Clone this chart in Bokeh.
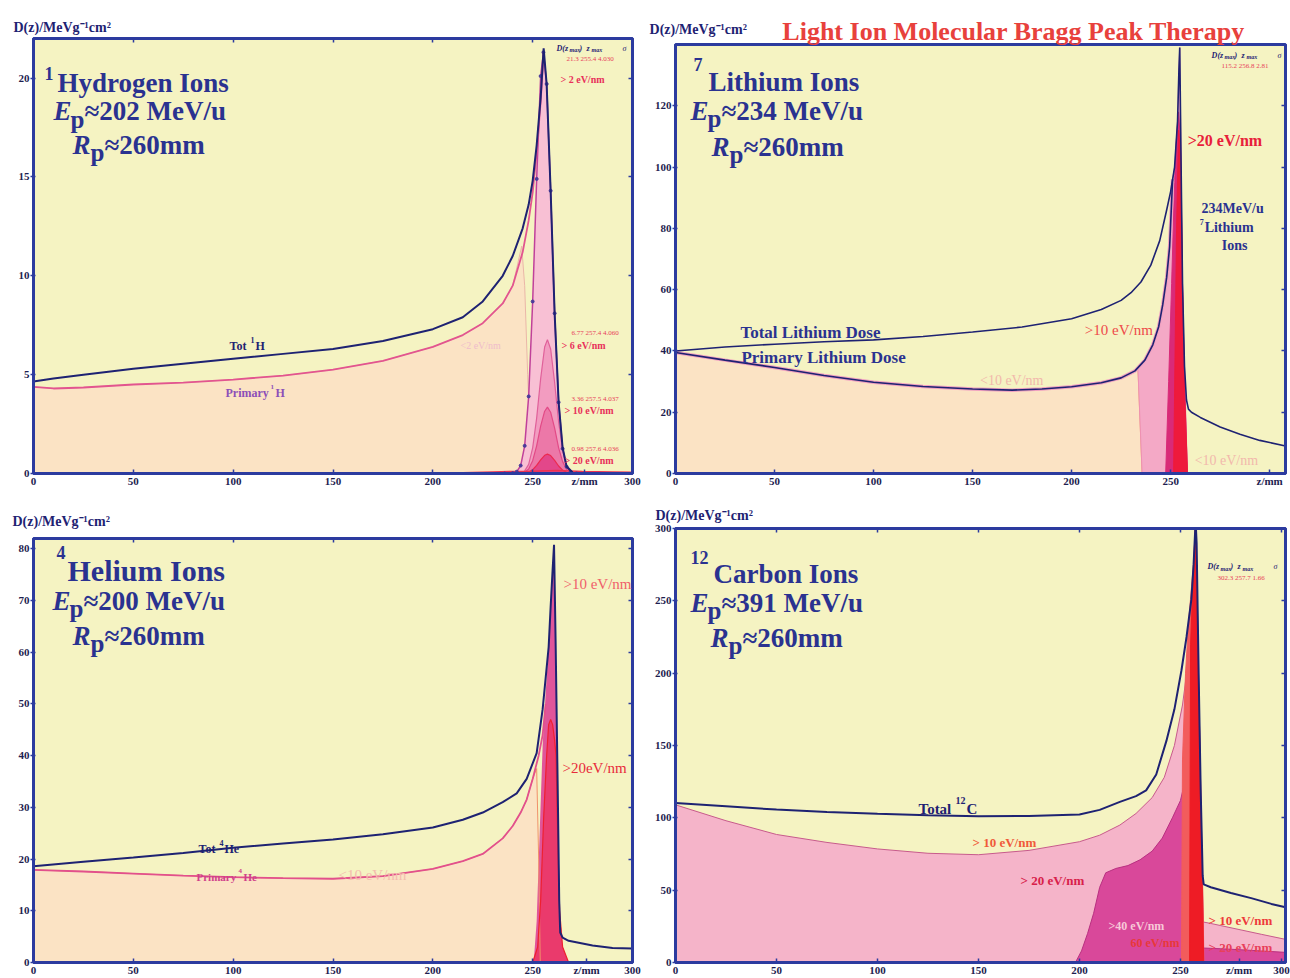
from bokeh.plotting import figure
from bokeh.models import Range1d, Label, LinearAxis, FixedTicker
from bokeh.layouts import column, row
from bokeh.embed import file_html
from bokeh.resources import INLINE

SERIF = "Liberation Serif"
YELLOW = "#f5f3c2"
FRAME = "#2c3b9f"
NAVY = "#1e2272"
TXT = "#2a3290"
TICK = "#1e1e50"
PEACH = "#fbe3c4"

# ---------------- data ----------------
x_ticks = [0, 50, 100, 150, 200, 250, 300]

# Hydrogen (panel 1)
h_y_ticks = [0, 5, 10, 15, 20]
h_tot_z = [0, 10, 25, 50, 75, 100, 125, 150, 175, 200, 215, 225, 235, 240, 245, 248, 250, 252, 254, 255.5, 257, 259, 261, 263, 265, 267, 270]
h_tot_d = [4.65, 4.8, 5.0, 5.3, 5.55, 5.8, 6.05, 6.3, 6.7, 7.3, 7.9, 8.7, 10.0, 11.0, 12.4, 13.6, 14.8, 16.6, 19.0, 21.5, 19.7, 14.3, 8.1, 3.6, 1.3, 0.35, 0.05]
h_pri_z = [0, 10, 25, 50, 75, 100, 125, 150, 175, 200, 215, 225, 235, 240, 245, 248, 250, 252, 254, 255.5]
h_pri_d = [4.38, 4.3, 4.35, 4.5, 4.6, 4.75, 4.95, 5.25, 5.7, 6.4, 7.0, 7.6, 8.6, 9.5, 11.2, 12.8, 14.2, 16.2, 18.8, 21.3]
h_lt2_z = [0, 10, 25, 50, 75, 100, 125, 150, 175, 200, 215, 225, 235, 240, 242.5, 244.5, 246, 247.5, 249, 250]
h_lt2_d = [4.38, 4.3, 4.35, 4.5, 4.6, 4.75, 4.95, 5.25, 5.7, 6.4, 7.0, 7.6, 8.6, 9.5, 10.6, 11.5, 9.5, 5.0, 1.2, 0.0]
h_gt2_z = [236, 240, 242, 244, 246, 248, 250, 252, 254, 255.4, 257, 259, 261, 263, 265, 267, 269, 272]
h_gt2_d = [0.0, 0.02, 0.09, 0.4, 1.4, 3.9, 8.7, 14.9, 20.1, 21.3, 19.7, 14.3, 8.1, 3.6, 1.25, 0.34, 0.07, 0.0]
h_peak_z = [244, 246, 248, 250, 252, 254, 256, 257.4, 259, 261, 263, 265, 267, 270]
h_gt6_d = [0.0, 0.13, 0.46, 1.3, 2.8, 4.8, 6.4, 6.77, 6.3, 4.6, 2.6, 1.2, 0.4, 0.05]
h_gt10_d = [0.0, 0.06, 0.23, 0.65, 1.4, 2.4, 3.15, 3.36, 3.1, 2.3, 1.3, 0.6, 0.2, 0.03]
h_gt20_d = [0.0, 0.02, 0.07, 0.19, 0.41, 0.69, 0.92, 0.98, 0.91, 0.66, 0.38, 0.17, 0.06, 0.01]
h_tail_z = [215, 230, 240, 250, 262, 275, 290, 300]
h_tail_d = [0.04, 0.08, 0.1, 0.12, 0.15, 0.1, 0.08, 0.06]

# Lithium (panel 2)
li_y_ticks = [0, 20, 40, 60, 80, 100, 120]
li_tot_z = [0, 25, 50, 75, 100, 125, 150, 175, 200, 215, 225, 230, 235, 240, 244.5, 248, 250, 251, 252, 253.5, 254.2, 254.6, 255.3, 256, 257, 258, 259, 260.5, 265, 275, 285, 295, 308]
li_tot_d = [40, 41.3, 42.2, 43, 43.6, 44.7, 46.2, 47.8, 50.5, 53.5, 56.5, 59, 62.5, 68, 76, 86, 92, 96, 100, 115, 132, 139, 100, 62, 35, 24, 21, 20, 18.3, 15.2, 12.8, 10.8, 9.0]
li_pri_z = [0, 25, 50, 75, 100, 125, 150, 170, 185, 200, 215, 225, 232, 237, 241, 244, 246, 248, 249.5, 251]
li_pri_d = [39.5, 37, 34.6, 32, 29.8, 28.4, 27.6, 27.2, 27.6, 28.3, 29.6, 31.2, 33.5, 37, 42, 48, 55, 64, 74, 96]
li_lt10_z = [0, 25, 50, 75, 100, 125, 150, 170, 185, 200, 215, 225, 232, 233.5, 235.6]
li_lt10_d = [39.5, 37, 34.6, 32, 29.8, 28.4, 27.6, 27.2, 27.6, 28.3, 29.6, 31.2, 33.5, 34.2, 0]
li_gt10_z = [235.6, 233.5, 237, 241, 244, 246, 248, 249.5, 251, 252, 253.5, 254.2, 254.6, 255.3, 256, 257, 258.5]
li_gt10_d = [0, 34.2, 37, 42, 48, 55, 64, 74, 96, 100, 115, 132, 139, 100, 62, 35, 0]
li_gt20_z = [247.5, 249, 250.5, 252, 253, 254, 255, 256, 257, 258.5]
li_gt20_d = [0, 30, 62, 95, 110, 118, 108, 62, 30, 0]
li_red_z = [251.5, 253, 254, 255, 256, 257, 258.5]
li_red_d = [0, 80, 112, 105, 60, 28, 0]

# Helium (panel 3)
he_y_ticks = [0, 10, 20, 30, 40, 50, 60, 70, 80]
he_tot_z = [0, 25, 50, 75, 100, 125, 150, 175, 200, 215, 225, 235, 242, 247, 252, 255, 256.5, 258, 259, 260, 260.7, 261.5, 262.5, 263.3, 263.8, 265, 268, 280, 290, 300]
he_tot_d = [18.6, 19.5, 20.3, 21.2, 22.2, 23.0, 23.8, 24.8, 26.1, 27.6, 29.0, 31.0, 32.7, 35.5, 40.5, 49.0, 55, 61, 68.8, 76, 80.8, 62, 35, 12, 5.8, 4.8, 4.2, 3.3, 2.8, 2.7]
he_pri_z = [0, 25, 50, 75, 100, 125, 150, 175, 200, 215, 225, 235, 240, 244, 247, 250, 253, 255, 256.5]
he_pri_d = [17.9, 17.6, 17.2, 16.8, 16.5, 16.3, 16.2, 16.7, 18.1, 19.6, 21.0, 24.0, 26.4, 29.0, 31.5, 35.5, 40, 44, 50]
he_lt10_z = [0, 25, 50, 75, 100, 125, 150, 175, 200, 215, 225, 235, 240, 244, 247, 250, 252, 253, 253.8]
he_lt10_d = [17.9, 17.6, 17.2, 16.8, 16.5, 16.3, 16.2, 16.7, 18.1, 19.6, 21.0, 24.0, 26.4, 29.0, 31.5, 35.5, 37.5, 20, 0]
he_gt10_z = [250.5, 252, 253.5, 255, 256.5, 258, 259, 260, 260.7, 261.5, 262.5, 263.3, 264, 266, 268]
he_gt10_d = [0, 8, 25, 42, 52, 61, 68.8, 76, 80.8, 62, 35, 12, 5, 1.5, 0]
he_gt20_z = [250, 252.5, 254, 255.5, 257, 258, 259, 260, 261, 261.7, 262.5, 263.5, 265, 268]
he_gt20_d = [0, 3, 12, 28, 40, 46, 47, 46, 43, 40, 25, 10, 3, 0]

# Carbon (panel 4)
c_y_ticks = [0, 50, 100, 150, 200, 250, 300]
c_tot_z = [0, 25, 50, 75, 100, 125, 150, 175, 200, 210, 220, 228, 233, 238, 243, 247, 250.5, 253, 255.4, 256.5, 257.5, 258, 259, 260, 261, 261.5, 265, 275, 285, 295, 302]
c_tot_d = [110.3, 108, 105.7, 104, 102.8, 101.8, 101.1, 101.3, 102.3, 105.5, 111, 115, 119, 130, 153, 175, 202, 225, 251, 275, 305, 290, 200, 120, 60, 54, 52, 48, 44.5, 40.5, 38.2]
c_gt10_z = [0, 25, 50, 75, 100, 125, 150, 175, 200, 210, 220, 228, 236, 242, 247, 251, 254, 256, 257.5, 259, 260.5, 261.3, 265, 270, 280, 290, 302]
c_gt10_d = [109, 98, 88.5, 83, 78.5, 75.5, 74.5, 77.5, 83.5, 88, 95, 103, 114, 128, 150, 178, 210, 250, 290, 195, 85, 28, 27, 25.5, 22.5, 19.5, 16]
c_gt20_z = [198, 201, 204, 207, 210, 213, 218, 224, 230, 236, 241, 246, 250, 253, 255, 256.5, 258, 259.5, 260.5, 261.3, 265, 270, 280, 290, 302]
c_gt20_d = [0, 8, 20, 34, 52, 62, 65, 67, 71, 77, 86, 100, 112, 130, 165, 200, 185, 120, 60, 10, 9.8, 9.5, 8.8, 8, 7]
c_gt40_z = [250.5, 251, 252.5, 254, 255.5, 257, 258.5, 259.5, 260.5, 261.3, 261.6]
c_gt40_d = [0, 140, 200, 235, 260, 285, 220, 160, 80, 30, 0]
c_red_z = [254.5, 255, 256.5, 257.3, 258.2, 259, 260, 261, 261.5]
c_red_d = [0, 220, 275, 300, 265, 190, 110, 40, 0]

# ---------------- panel geometry (page pixels) ----------------
G1 = dict(page=(0, 0), L=33, R=632, T=38, B=475, xr=(0, 300), yr=(0, 22),
          xticks=x_ticks + [276], xover={276: "z/mm"}, yticks=h_y_ticks, top_axis=True)
G2 = dict(page=(645, 0), L=675, R=1286, T=42, B=475, xr=(0, 308), yr=(0, 140),
          xticks=x_ticks, xover={300: "z/mm"}, yticks=li_y_ticks, top_axis=False)
G3 = dict(page=(0, 489), L=33, R=632, T=538, B=962, xr=(0, 300), yr=(0, 82),
          xticks=x_ticks + [277], xover={277: "z/mm"}, yticks=he_y_ticks, top_axis=True)
G4 = dict(page=(645, 489), L=675, R=1285, T=528, B=962, xr=(0, 302), yr=(0, 300),
          xticks=x_ticks + [279], xover={279: "z/mm"}, yticks=c_y_ticks, top_axis=True)


def style_axis(ax):
    ax.axis_line_color = FRAME
    ax.axis_line_width = 3
    ax.major_tick_line_color = FRAME
    ax.major_tick_line_width = 1.5
    ax.minor_tick_line_color = None
    ax.major_label_text_font = SERIF
    ax.major_label_text_font_style = "bold"
    ax.major_label_text_font_size = "11px"
    ax.major_label_text_color = TICK


def make_panel(g):
    ox, oy = g["page"]
    W, H = 645, 489
    p = figure(width=W, height=H, x_range=Range1d(*g["xr"]), y_range=Range1d(*g["yr"]),
               output_backend="svg", toolbar_location=None,
               min_border_left=g["L"] - ox, min_border_right=ox + W - g["R"],
               min_border_top=g["T"] - oy, min_border_bottom=oy + H - g["B"],
               background_fill_color=YELLOW, border_fill_color="white",
               outline_line_color=FRAME, outline_line_width=3)
    p.xgrid.visible = False
    p.ygrid.visible = False
    xa, ya = p.xaxis[0], p.yaxis[0]
    style_axis(xa)
    style_axis(ya)
    xa.ticker = FixedTicker(ticks=g["xticks"])
    xa.major_label_overrides = g["xover"]
    xa.major_tick_in = 4
    xa.major_tick_out = 0
    xa.major_label_standoff = 1
    ya.ticker = FixedTicker(ticks=g["yticks"])
    ya.major_tick_in = 2
    ya.major_tick_out = 3
    ya.major_label_standoff = 1
    right = LinearAxis(ticker=FixedTicker(ticks=g["yticks"]),
                       major_label_overrides={t: "" for t in g["yticks"]})
    axes = [(right, "right")]
    if g["top_axis"]:
        top = LinearAxis(ticker=FixedTicker(ticks=x_ticks),
                         major_label_overrides={t: "" for t in x_ticks})
        axes.append((top, "above"))
    for ax, side in axes:
        style_axis(ax)
        ax.major_tick_in = 4
        ax.major_tick_out = 0
        ax.major_label_standoff = 0
        p.add_layout(ax, side)
    return p


def lab(p, g, px, py, text, size, color=TXT, style="bold", align="left",
        baseline="alphabetic", font=SERIF, side=None):
    x0, x1 = g["xr"]
    y0, y1 = g["yr"]
    x = x0 + (px - g["L"]) / (g["R"] - g["L"]) * (x1 - x0)
    y = y0 + (g["B"] - py) / (g["B"] - g["T"]) * (y1 - y0)
    lb = Label(x=x, y=y, text=text, text_font=font, text_font_size=f"{size}px",
               text_font_style=style, text_color=color, text_align=align,
               text_baseline=baseline)
    if side:
        p.add_layout(lb, side)
    else:
        p.add_layout(lb)


def ylabel(p, g, px, py):
    lab(p, g, px, py, "D(z)/MeVg\u207b\u00b9cm\u00b2", 14, NAVY, side="above")


def big_title(p, g, sup, sup_xy, name, name_xy, e_xy, e_txt, r_xy, size=27, name_size=27):
    lab(p, g, sup_xy[0], sup_xy[1], sup, 18, TXT)
    lab(p, g, name_xy[0], name_xy[1], name, name_size, TXT)
    ex, ey = e_xy
    lab(p, g, ex, ey, "E", size, TXT, "bold italic")
    lab(p, g, ex + 17, ey + 8, "p", size - 2, TXT)
    lab(p, g, ex + 31, ey, e_txt, size, TXT)
    rx, ry = r_xy
    lab(p, g, rx, ry, "R", size, TXT, "bold italic")
    lab(p, g, rx + 18, ry + 8, "p", size - 2, TXT)
    lab(p, g, rx + 32, ry, "\u2248260mm", size, TXT)


def dmax_header(p, g, px, py, vals):
    lab(p, g, px, py, "D(z", 8, NAVY, "bold italic")
    lab(p, g, px + 13, py + 2, "max", 6, NAVY, "bold italic")
    lab(p, g, px + 23, py, ")", 8, NAVY, "bold italic")
    lab(p, g, px + 30, py, "z", 8, NAVY, "bold italic")
    lab(p, g, px + 35, py + 2, "max", 6, NAVY, "bold italic")
    lab(p, g, px + 66, py, "\u03c3", 8, NAVY, "italic")
    lab(p, g, px + 10, py + 11, vals, 7, "#e8405a", "normal")


# ---------------- panel 1: Hydrogen ----------------
p1 = make_panel(G1)
p1.varea(x=h_lt2_z, y1=0, y2=h_lt2_d, fill_color=PEACH)
p1.line(h_lt2_z, h_lt2_d, line_color="#eab6a8", line_width=1)
p1.varea(x=h_gt2_z, y1=0, y2=h_gt2_d, fill_color="#f8c0d4")
p1.varea(x=h_peak_z, y1=0, y2=h_gt6_d, fill_color="#f29cc0")
p1.varea(x=h_peak_z, y1=0, y2=h_gt10_d, fill_color="#ec78a8")
p1.varea(x=h_peak_z, y1=0, y2=h_gt20_d, fill_color="#e3478a")
p1.line(h_gt2_z, h_gt2_d, line_color="#c0409a", line_width=1.5)
p1.line(h_peak_z, h_gt6_d, line_color="#e0609a", line_width=1.2)
p1.line(h_peak_z, h_gt10_d, line_color="#e24a86", line_width=1.2)
p1.line(h_peak_z, h_gt20_d, line_color="#ec2a50", line_width=1.2)
p1.line(h_tail_z, h_tail_d, line_color="#ee3050", line_width=1.5)
p1.scatter(h_gt2_z, h_gt2_d, size=3, color="#4a3a9a")
p1.line(h_pri_z, h_pri_d, line_color="#e2558f", line_width=1.8)
p1.line(h_tot_z, h_tot_d, line_color=NAVY, line_width=2)

ylabel(p1, G1, 13, 27)
big_title(p1, G1, "1", (44, 73), "Hydrogen Ions", (57, 83), (53, 111), "\u2248202 MeV/u", (72, 145))
lab(p1, G1, 229, 347, "Tot", 12, NAVY)
lab(p1, G1, 250, 341, "1", 8, NAVY)
lab(p1, G1, 255, 347, "H", 12, NAVY)
lab(p1, G1, 225, 394, "Primary", 12, "#8d4fb8")
lab(p1, G1, 270, 388, "1", 7, "#8d4fb8")
lab(p1, G1, 275, 394, "H", 12, "#8d4fb8")
lab(p1, G1, 460, 346, "<2 eV/nm", 10, "#efbccb", "normal")
dmax_header(p1, G1, 556, 48, "21.3  255.4  4.030")
lab(p1, G1, 560, 79, "> 2 eV/nm", 10, "#e8305a")
lab(p1, G1, 571, 334, "6.77  257.4  4.060", 7, "#e8405a", "normal")
lab(p1, G1, 561, 346, "> 6 eV/nm", 10, "#e8305a")
lab(p1, G1, 571, 400, "3.36  257.5  4.037", 7, "#e8405a", "normal")
lab(p1, G1, 564, 412, "> 10 eV/nm", 10, "#e8305a")
lab(p1, G1, 571, 450, "0.98  257.6  4.036", 7, "#e8405a", "normal")
lab(p1, G1, 564, 462, "> 20 eV/nm", 10, "#e8305a")

# ---------------- panel 2: Lithium ----------------
p2 = make_panel(G2)
p2.varea(x=li_lt10_z, y1=0, y2=li_lt10_d, fill_color=PEACH)
p2.line(li_lt10_z, li_lt10_d, line_color="#f0a070", line_width=1)
p2.patch(li_gt10_z, li_gt10_d, fill_color="#f4a9c6", line_color="#ee90b4", line_width=1)
p2.patch(li_gt20_z, li_gt20_d, fill_color="#d92a78", line_color="#d92a78", line_width=1)
p2.patch(li_red_z, li_red_d, fill_color="#ee1a3c", line_color="#ee1a3c", line_width=1)
p2.line(li_pri_z, li_pri_d, line_color="#f0a0c0", line_width=3.5)
p2.line(li_pri_z, li_pri_d, line_color=NAVY, line_width=1.6)
p2.line(li_tot_z, li_tot_d, line_color=NAVY, line_width=1.6)

ylabel(p2, G2, 649, 27)
lab(p2, G2, 782, 29, "Light Ion Molecular Bragg Peak Therapy", 26, "#e8413c", side="above")
big_title(p2, G2, "7", (693, 62), "Lithium Ions", (708, 80), (690, 109), "\u2248234 MeV/u", (711, 145))
dmax_header(p2, G2, 1212, 53, "115.2  256.8  2.81")
lab(p2, G2, 1188, 139, ">20 eV/nm", 16, "#e8203a")
lab(p2, G2, 1233, 208, "234MeV/u", 14, TXT, align="center")
lab(p2, G2, 1200, 221, "7", 8, TXT)
lab(p2, G2, 1205, 227, "Lithium", 14, TXT)
lab(p2, G2, 1235, 245, "Ions", 14, TXT, align="center")
lab(p2, G2, 740, 333, "Total Lithium Dose", 17, TXT)
lab(p2, G2, 741, 358, "Primary Lithium Dose", 17, TXT)
lab(p2, G2, 1085, 330, ">10 eV/nm", 15, "#ee4a4a", "normal")
lab(p2, G2, 980, 381, "<10 eV/nm", 14, "#f2b8ac", "normal")
lab(p2, G2, 1195, 462, "<10 eV/nm", 14, "#f2b8ac", "normal")

# ---------------- panel 3: Helium ----------------
p3 = make_panel(G3)
p3.varea(x=he_lt10_z, y1=0, y2=he_lt10_d, fill_color=PEACH)
p3.varea(x=he_gt10_z, y1=0, y2=he_gt10_d, fill_color="#e0559a")
p3.varea(x=he_gt20_z, y1=0, y2=he_gt20_d, fill_color="#ea3a6c")
p3.line(he_lt10_z, he_lt10_d, line_color="#f0906a", line_width=1)
p3.line(he_gt20_z, he_gt20_d, line_color="#ee2030", line_width=1.2)
p3.line(he_pri_z, he_pri_d, line_color="#e2508c", line_width=1.8)
p3.line(he_tot_z, he_tot_d, line_color=NAVY, line_width=2)

ylabel(p3, G3, 12, 521)
big_title(p3, G3, "4", (56, 552), "Helium Ions", (67, 570), (52, 600), "\u2248200 MeV/u", (72, 635), name_size=30)
lab(p3, G3, 563, 583, ">10 eV/nm", 15, "#f0606a", "normal")
lab(p3, G3, 562, 767, ">20eV/nm", 15, "#e82a3a", "normal")
lab(p3, G3, 198, 848, "Tot", 12, NAVY)
lab(p3, G3, 219, 842, "4", 8, NAVY)
lab(p3, G3, 224, 848, "He", 12, NAVY)
lab(p3, G3, 196, 876, "Primary", 11, "#d0408a")
lab(p3, G3, 238, 870, "4", 7, "#d0408a")
lab(p3, G3, 243, 876, "He", 11, "#d0408a")
lab(p3, G3, 338, 874, "<10 eV/nm", 15, "#f4bcae", "normal")

# ---------------- panel 4: Carbon ----------------
p4 = make_panel(G4)
p4.varea(x=c_gt10_z, y1=0, y2=c_gt10_d, fill_color="#f5b4c9")
p4.line(c_gt10_z, c_gt10_d, line_color="#c75a8c", line_width=1)
p4.varea(x=c_gt20_z, y1=0, y2=c_gt20_d, fill_color="#d9489a")
p4.line(c_gt20_z, c_gt20_d, line_color="#b83080", line_width=1)
p4.patch(c_gt40_z, c_gt40_d, fill_color="#f25c5c", line_color="#f25c5c")
p4.patch(c_red_z, c_red_d, fill_color="#ee1c25", line_color="#ee1c25")
p4.line(c_tot_z, c_tot_d, line_color=NAVY, line_width=2)

ylabel(p4, G4, 655, 515)
big_title(p4, G4, "12", (690, 557), "Carbon Ions", (713, 573), (690, 602), "\u2248391 MeV/u", (710, 637))
dmax_header(p4, G4, 1207, 566, "302.3  257.7  1.66")
lab(p4, G4, 918, 808, "Total", 15, NAVY)
lab(p4, G4, 955, 800, "12", 10, NAVY)
lab(p4, G4, 966, 808, "C", 15, NAVY)
lab(p4, G4, 972, 842, "> 10 eV/nm", 13, "#f05a3a")
lab(p4, G4, 1020, 880, "> 20 eV/nm", 13, "#d8204a")
lab(p4, G4, 1108, 925, ">40 eV/nm", 12, "#f8c8d8")
lab(p4, G4, 1130, 942, "60 eV/nm", 12, "#e83838")
lab(p4, G4, 1208, 920, "> 10 eV/nm", 13, "#ee3a3a")
lab(p4, G4, 1208, 947, "> 20 eV/nm", 13, "#e8405a")

layout = row(column(p1, p3), column(p2, p4))
open("out.html", "w").write(file_html(layout, INLINE))
